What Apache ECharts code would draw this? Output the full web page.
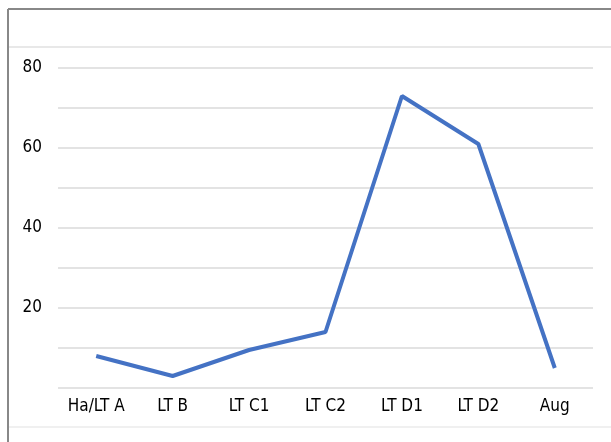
<!DOCTYPE html>
<html><head><meta charset="utf-8">
<script src="https://cdn.jsdelivr.net/npm/echarts@6/dist/echarts.min.js"></script>
<style>html,body{margin:0;padding:0;background:#fff}#c{width:611px;height:442px}</style>
</head><body><div id="c"></div>
<script>
const categories = ['Ha/LT A', 'LT B', 'LT C1', 'LT C2', 'LT D1', 'LT D2', 'Aug'];
const values = [8, 3, 9.5, 14, 73, 61, 5];
const yTickLabels = [20, 40, 60, 80];

const FONT = '"Liberation Sans Narrow", "DejaVu Sans Condensed", sans-serif';
const chart = echarts.init(document.getElementById('c'), null, {renderer: 'canvas'});
chart.setOption({
  animation: false,
  backgroundColor: '#fff',
  graphic: [
    {type: 'line', shape: {x1: 8, y1: 9, x2: 611, y2: 9}, style: {stroke: '#888', lineWidth: 2}},
    {type: 'line', shape: {x1: 8, y1: 9, x2: 8, y2: 442}, style: {stroke: '#888', lineWidth: 2}},
    {type: 'line', shape: {x1: 9, y1: 47, x2: 611, y2: 47}, style: {stroke: '#e8e8e8', lineWidth: 2}},
    {type: 'line', shape: {x1: 9, y1: 427, x2: 611, y2: 427}, style: {stroke: '#f0f0f0', lineWidth: 2}}
  ],
  grid: {left: 58, right: 18, top: 68, bottom: 54, containLabel: false},
  xAxis: {
    type: 'category',
    data: categories,
    boundaryGap: true,
    axisLine: {show: false},
    axisTick: {show: false},
    axisLabel: {color: '#000', fontFamily: FONT, fontSize: 17, margin: 10}
  },
  yAxis: {
    type: 'value',
    min: 0, max: 80, interval: 10,
    axisLine: {show: false},
    axisTick: {show: false},
    splitLine: {lineStyle: {color: '#e3e3e3', width: 2}},
    axisLabel: {
      color: '#000', fontFamily: FONT, fontSize: 17, margin: 16,
      formatter: v => yTickLabels.includes(v) ? String(v) : ''
    }
  },
  series: [{
    type: 'line',
    data: values,
    symbol: 'none',
    lineStyle: {color: '#4472c4', width: 4},
    itemStyle: {color: '#4472c4'}
  }]
});
</script></body></html>
